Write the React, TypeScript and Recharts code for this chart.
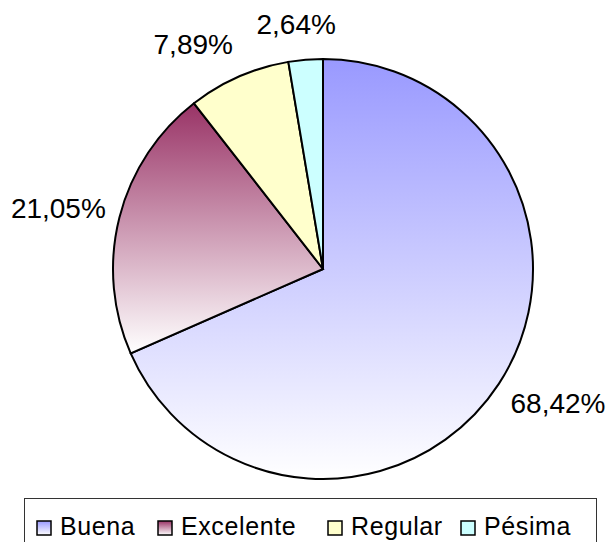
import React from "react";
import { PieChart, Pie, Cell, Legend } from "recharts";

const categories = ["Buena", "Excelente", "Regular", "Pésima"];
const values = [68.42, 21.05, 7.89, 2.64];
const valueLabels = ["68,42%", "21,05%", "7,89%", "2,64%"];
const colors = ["#9999FF", "#993366", "#FFFFCC", "#CCFFFF"];
const gradientSeries = [true, true, false, false];

const data = categories.map((name, i) => ({ name, value: values[i], label: valueLabels[i] }));

const FONT = "'Liberation Sans', Arial, sans-serif";
const LABEL_SIZE = 28;
const RADIAN = Math.PI / 180;
const legendItemWidths = [121, 170, 133, 130];

const fillFor = (i: number) => (gradientSeries[i] ? `url(#grad${i})` : colors[i]);

const charWidth = (c: string) => (c === "," ? 0.278 : c === "%" ? 0.889 : 0.556);
const textWidth = (s: string) => s.split("").reduce((a, c) => a + charWidth(c), 0) * LABEL_SIZE;

const renderLabel = (props: any) => {
  const { cx, cy, midAngle, outerRadius, index } = props;
  const text = valueLabels[index];
  const dx = Math.cos(-midAngle * RADIAN);
  const dy = Math.sin(-midAngle * RADIAN);
  const r = outerRadius + 14;
  const w = textWidth(text);
  const x = cx + r * dx + Math.sign(dx) * (w / 2) * Math.min(1, 2.5 * Math.abs(dx));
  const y = cy + r * dy + 22 * dy;
  return (
    <text
      x={x}
      y={y}
      dy="0.35em"
      textAnchor="middle"
      fill="#000"
      fontSize={LABEL_SIZE}
      fontFamily={FONT}
    >
      {text}
    </text>
  );
};

const LegendContent = () => (
  <div
    style={{
      boxSizing: "border-box",
      width: 573,
      height: 56,
      border: "1.5px solid #333",
      background: "#fff",
      display: "flex",
      alignItems: "flex-start",
      paddingLeft: 11,
      paddingTop: 13,
      fontFamily: FONT,
      fontSize: 25,
      letterSpacing: 0.6,
      color: "#000",
    }}
  >
    {categories.map((name, i) => (
      <div
        key={name}
        style={{ display: "flex", alignItems: "center", width: legendItemWidths[i], flex: "none", lineHeight: "28px" }}
      >
        <svg width={16} height={16} style={{ marginRight: 8, marginTop: 3 }}>
          <rect x={1} y={1} width={14} height={14} fill={fillFor(i)} stroke="#000" strokeWidth={1.5} />
        </svg>
        <span>{name}</span>
      </div>
    ))}
  </div>
);

export default function App() {
  return (
    <div style={{ position: "relative", width: 608, height: 542, background: "#fff", overflow: "hidden" }}>
      <style>{`body{margin:0;overflow:hidden;background:#fff}`}</style>
      <PieChart width={608} height={542} margin={{ top: 0, right: 0, bottom: 0, left: 0 }}>
        <defs>
          {colors.map((c, i) =>
            gradientSeries[i] ? (
              <linearGradient key={i} id={`grad${i}`} x1="0" y1="0" x2="0" y2="1">
                <stop offset="0%" stopColor={c} />
                <stop offset="100%" stopColor="#FFFFFF" />
              </linearGradient>
            ) : null
          )}
        </defs>
        <Pie
          data={data}
          dataKey="value"
          nameKey="name"
          cx={323}
          cy={269}
          outerRadius={210}
          startAngle={90}
          endAngle={-270}
          stroke="#000"
          strokeWidth={2}
          label={renderLabel}
          labelLine={false}
          isAnimationActive={false}
        >
          {data.map((d, i) => (
            <Cell key={d.name} fill={fillFor(i)} />
          ))}
        </Pie>
        <Legend
          content={() => <LegendContent />}
          wrapperStyle={{ position: "absolute", left: 24, top: 498, width: 573, height: 56 }}
        />
      </PieChart>
    </div>
  );
}
